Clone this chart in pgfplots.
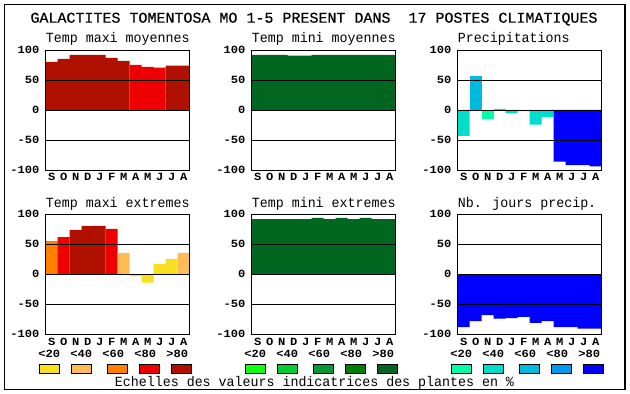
\documentclass[border=0pt]{standalone}
\usepackage{pgfplots}
\pgfplotsset{compat=1.18}
\usepackage{fontspec}
\setmainfont{Liberation Mono}
\newfontfamily\tickfont[FakeStretch=1.1]{Liberation Mono Bold}
\newfontfamily\subfont[FakeStretch=0.95]{Liberation Mono}
\newfontfamily\titfont[FakeBold=0.6]{Liberation Mono}
\definecolor{yel}{HTML}{F8E020}
\definecolor{lor}{HTML}{FFBB55}
\definecolor{ora}{HTML}{FF8000}
\definecolor{red}{HTML}{EE0000}
\definecolor{dre}{HTML}{B01000}
\definecolor{ga}{HTML}{10FF10}
\definecolor{gb}{HTML}{00CC33}
\definecolor{gc}{HTML}{009933}
\definecolor{gd}{HTML}{008000}
\definecolor{ge}{HTML}{006620}
\definecolor{ba}{HTML}{00FFAA}
\definecolor{bb}{HTML}{00DDCC}
\definecolor{bc}{HTML}{00BBDD}
\definecolor{bd}{HTML}{0099EE}
\definecolor{be}{HTML}{0000FF}
\pgfplotsset{
  panel/.style={
    width=144pt, height=120pt, scale only axis,
    anchor=south west,
    xmin=0.5, xmax=12.5, ymin=-100, ymax=100,
    xtick={1,2,3,4,5,6,7,8,9,10,11,12},
    xticklabels={S,O,N,D,J,F,M,A,M,J,J,A},
    ytick={-100,-50,0,50,100},
    yticklabels={-100,-50,0,50,100},
    major tick length=0pt,
    ymajorgrids, grid style={black, line width=0.9pt},
    axis on top,
    axis line style={line width=0.9pt},
    ticklabel style={font=\tickfont\fontsize{11}{12}\selectfont},
    yticklabel style={anchor=east, inner sep=0pt, xshift=-6pt},
    xticklabel style={anchor=base, inner sep=0pt, yshift=-11pt},
    every axis title/.style={at={(0,1)}, anchor=base west, inner sep=0pt, yshift=7pt,
      font=\subfont\fontsize{14}{16}\selectfont},
  },
  bars/.style={ybar, bar width=1, bar shift=0pt, fill=#1, draw=none},
}
\begin{document}
\begin{tikzpicture}[x=1pt,y=1pt]
\useasboundingbox (0,0) rectangle (630,394);
\draw[line width=1.1pt] (4.5,4.5) rectangle (625,389.3);
\node[anchor=base, inner sep=0pt, font=\titfont\fontsize{15}{17}\selectfont] at (314,371.3)
  {GALACTITES TOMENTOSA MO 1-5 PRESENT DANS\ \ 17 POSTES CLIMATIQUES};

% Temp maxi moyennes
\begin{axis}[panel, at={(45.7pt,224pt)}, title={Temp maxi moyennes}]
\addplot[bars=dre] coordinates {(1,80)(2,85)(3,92)(4,92)(5,92)(6,87)(7,82)(11,74)(12,74)};
\addplot[bars=red] coordinates {(8,75)(9,72)(10,70.5)};
\end{axis}

% Temp mini moyennes
\begin{axis}[panel, at={(251.7pt,224pt)}, title={Temp mini moyennes}]
\addplot[bars=ge] coordinates {(1,92)(2,92)(3,92)(4,90.5)(5,90.5)(6,92)(7,92)(8,92)(9,92)(10,92)(11,92)(12,92)};
\end{axis}

% Precipitations
\begin{axis}[panel, at={(457.7pt,224pt)}, title={Precipitations}]
\addplot[bars=bb] coordinates {(1,-43)(4,2)(5,-5.5)(6,-2)(7,-24.5)(8,-12)};
\addplot[bars=bc] coordinates {(2,56)};
\addplot[bars=ba] coordinates {(3,-15.5)};
\addplot[bars=be] coordinates {(9,-86)(10,-92)(11,-92)(12,-94)};
\end{axis}

% Temp maxi extremes
\begin{axis}[panel, at={(45.7pt,59.7pt)}, title={Temp maxi extremes}]
\addplot[bars=ora] coordinates {(1,55.5)};
\addplot[bars=red] coordinates {(2,62)(6,75.5)};
\addplot[bars=dre] coordinates {(3,74)(4,80.5)(5,80.5)};
\addplot[bars=lor] coordinates {(7,35.5)(12,35.5)};
\addplot[bars=yel] coordinates {(8,-3)(9,-14)(10,17)(11,25.5)};
\end{axis}

% Temp mini extremes
\begin{axis}[panel, at={(251.7pt,59.7pt)}, title={Temp mini extremes}]
\addplot[bars=ge] coordinates {(1,92)(2,92)(3,92)(4,92)(5,92)(6,94)(7,92)(8,94)(9,92)(10,94)(11,92)(12,92)};
\end{axis}

% Nb. jours precip.
\begin{axis}[panel, at={(457.7pt,59.7pt)}, title={Nb. jours precip.}]
\addplot[bars=be] coordinates {(1,-88)(2,-78)(3,-68)(4,-74)(5,-73)(6,-71)(7,-81)(8,-78)(9,-88)(10,-88)(11,-90.5)(12,-90.5)};
\end{axis}

% legend scales
\foreach \g/\ca/\cb/\cc/\cd/\ce in {0/yel/lor/ora/red/dre, 206/ga/gb/gc/gd/ge, 412/ba/bb/bc/bd/be}{
  \foreach \lx/\bx/\t/\c in {49.3/49.3/{<20}/\ca, 81.3/81.3/{<40}/\cb, 113.3/117.3/{<60}/\cc, 145.3/149.3/{<80}/\cd, 177.3/181.3/{>80}/\ce}{
    \node[anchor=base, inner sep=0pt, font=\tickfont\fontsize{11}{12}\selectfont] at (\g+\lx,36.7) {\t};
    \node[draw=black, line width=0.8pt, fill=\c, minimum width=20.7pt, minimum height=9.7pt, inner sep=0pt] at (\g+\bx,25.2) {};
  }
}
\node[anchor=base, inner sep=0pt, font=\subfont\fontsize{14}{16}\selectfont] at (314.5,7)
  {Echelles des valeurs indicatrices des plantes en \%};
\end{tikzpicture}
\end{document}
